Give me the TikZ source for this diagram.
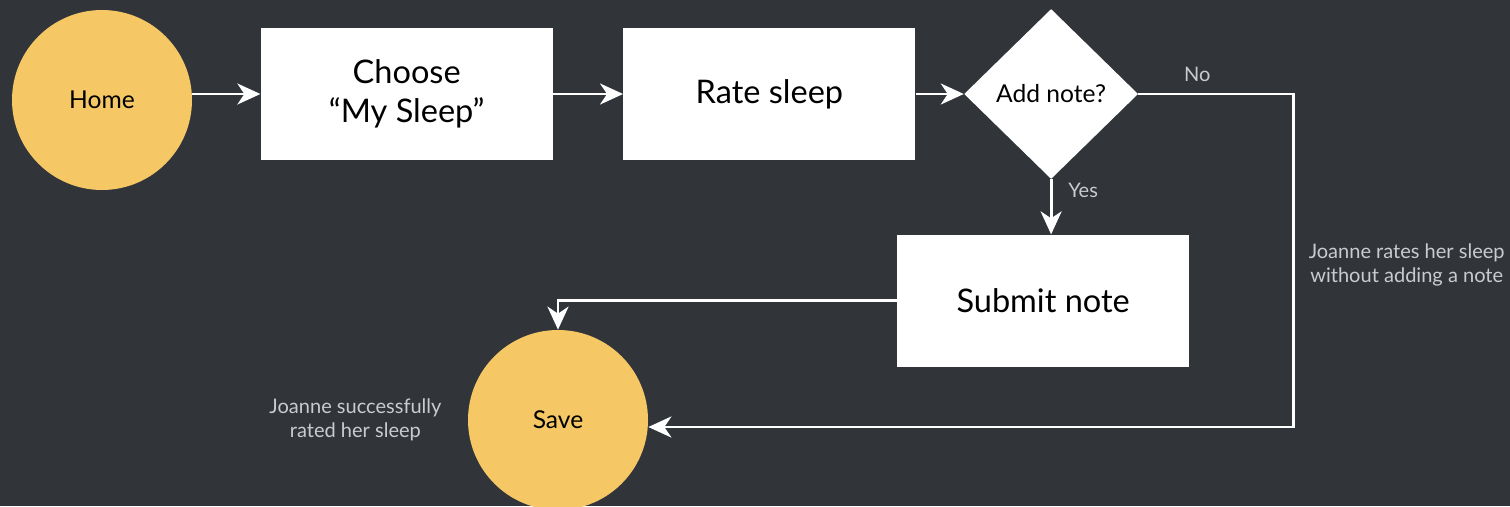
\documentclass[tikz,border=0pt]{standalone}
\usepackage{fontspec}
\setmainfont{Lato}
\usetikzlibrary{shapes,arrows,arrows.meta}
\usetikzlibrary{positioning}
\definecolor{board}{HTML}{31353A}
\definecolor{sun}{HTML}{F5C765}
\definecolor{hint}{HTML}{C9CBCD}
\tikzstyle{stepcircle} = [circle, fill=sun, minimum size=3.6cm, inner sep=0pt,
font=\fontsize{14}{16}\selectfont]
\tikzstyle{stepbox} = [rectangle, fill=white, minimum width=5.84cm,
minimum height=2.64cm, align=center, font=\fontsize{18.5}{22}\selectfont]
\tikzstyle{line} = [draw=white, line width=1.6pt,
-{Stealth[length=0.46cm, width=0.42cm, inset=0.14cm]}]

\begin{document}
\begin{tikzpicture}[auto,
	decision/.style={diamond, fill=white, minimum width=3.48cm,
		minimum height=3.4cm, inner sep=0pt, font=\fontsize{14}{16}\selectfont},
	remark/.style={text=hint, align=center, font=\fontsize{11.4}{13.8}\selectfont}]
    \fill [board] (0,0) rectangle (30.2,10.12);
    \useasboundingbox (0,0) rectangle (30.2,10.12);
    \node [stepcircle] (home) at (2.04,8.12) {Home};
    \node [stepbox, right=1.36cm of home, yshift=0.12cm] (choose) {Choose\\``My Sleep''};
	\node [stepbox, right=1.4cm of choose] (rate) {Rate sleep};
	\node [decision, right=0.96cm of rate] (ask) {Add note?};
	\node [stepbox, below=1.1cm of ask, xshift=-0.16cm] (submit) {Submit note};
	\node [stepcircle] (save) at (11.16,1.72) {Save};
	\coordinate [right=3.1cm of ask.east] (turn);
	%% Labels
	\node [remark, left=0.4cm of save] (doneText) {Joanne successfully\\rated her sleep};
	\node [remark, anchor=east, inner sep=0pt] (skipText) at (30.1,4.82) {Joanne rates her sleep\\without adding a note};
	%% Arrows
	\path [line] (home.east |- choose.west) to (choose.west);
	\path [line] (choose) to (rate);
	\path [line] (rate) to (ask);
	\path [line] (ask.south) to node [remark, pos=0.2, right, xshift=0.2cm] (yesText) {Yes}
		(ask.south |- submit.north);
	\path [line] (submit.west) -| (save.north);
	\path [line] (ask.east) to node [remark, pos=0.38, above, yshift=0.1cm] (noText) {No} (turn)
		|- ([yshift=-0.14cm]save.east);
\end{tikzpicture}
\end{document}
